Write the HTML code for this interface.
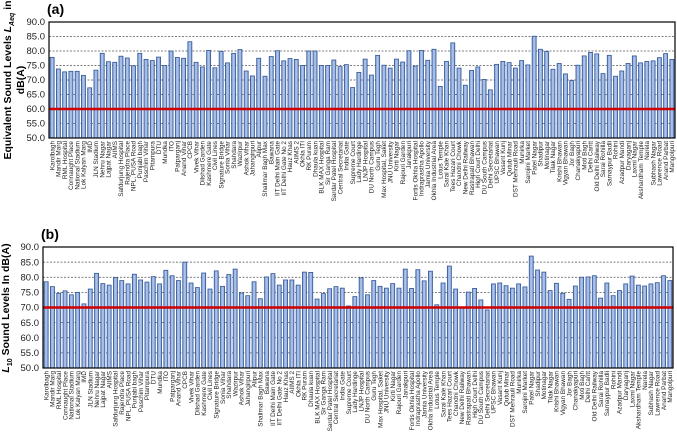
<!DOCTYPE html>
<html><head><meta charset="utf-8"><style>
html,body{margin:0;padding:0;background:#fff;}
svg{display:block;font-family:"Liberation Sans",Arial,sans-serif;}
</style></head><body>
<svg id="c" width="677" height="434" viewBox="0 0 677 434"></svg>
<script>
const categories=["Karolbagh","Mandir Marg","RML Hospital","Connaught Place","National Stadium","Lok Kalyan Marg","IMD","JLN Stadium","Nehru Nagar","Lajpat Nagar","AIIMS","Safdurjung Hospital","Rajendra Place","NPL, PUSA Road","Punjabi bagh","Paschim Vihar","Pitampura","DTU","Mundka","ITO","Patparganj","Anand Vihar","CPCB","Vivek Vihar","Dilshad Garden","Kashmere Gate","Civil Lines","Signature Bridge","Sonia Vihar","Shahdara","Wazirpur","Ashok Vihar","Jahangirpuri","Alipur","Shalimar Bagh Max","Bawana","IIT Delhi Main Gate","IIT Delhi Gate No 2","Hauz Khas","AIIMS 2","Okhla ITI","RK Puram","Dhaula kuan","BLK MAX Hospital","Sir Ganga Ram","Sardar Patel Hospital","Central Secretariat","India Gate","Supreme Court","Lady Hardinge","LNJP Hospital","DU North Campus","Guru Tegh","Max Hospital, Saket","JNU University","Kirti Nagar","Rajouri Garden","Janakpuri","Fortis Okhla Hospital","Indraprastha Apollo","Jamia University","Okhla Industrial Area","Lotus Temple","Sarai Kale Khan","Tees Hazari Court","Chandni Chowk","New Delhi Railway","Rastrapati Bhawan","High Court Delhi","DU South Campus","Delhi Secretariat","UPSC Bhawan","Vasant Kunj","Qutub Minar","DST Mehrauli Road","Munirka","Sarojini Market","Patel Nagar","Shadipur","Motinagar","Tilak Nagar","Krishi Bhawan","Vigyan Bhawan","Jor Bagh","Chanakyapuri","Moti Bagh","Delhi Cantt","Old Delhi Railway","Sarai Rohilla","Samaypur Badli","Rohini","Azadpur Mandi","Daryaganj","Laxmi Nagar","Akshardham Temple","Narela","Subhash Nagar","Lawrence Road","Anand Parbat","Mangolpuri"];
const laeqValues=[77.8,73.8,72.8,73,73,71.6,67.3,73.4,79.2,76.3,76.1,78.2,77.6,74.9,79.2,77.1,76.7,77.9,75,80,77.8,77.5,83.2,76.1,74.5,80.2,74.2,79.9,75.9,79.2,80.5,73.1,71.4,77.5,71.3,78.1,80.1,76.6,77.4,77.1,75,80,80,75,75,76.9,74.6,75.3,67.4,72.6,77.2,71.7,78.5,75.1,74.1,77.2,76.2,80.1,74.8,80.2,76.8,80.6,67.8,76.4,82.8,74.1,68.2,73.3,74.5,70.2,66.6,75.4,76.4,76,74.1,76.7,75.2,85.1,80.6,79.8,73.7,75.7,72.1,69.8,75.1,78.3,79.5,79,72.2,78.5,71.3,73.1,75.7,78.3,75.9,76.4,76.6,77.7,79.1,77.1];
const l10Values=[78.5,76.9,74.7,75.5,74.2,75,71.2,76.1,81.3,77.9,77.4,79.9,78.9,77.8,81,79.1,78.4,80.2,77.8,82.3,80.5,78.9,85,78.1,76.6,81.4,76.1,82.1,77,80.9,82.7,74.8,73.9,78.5,72.9,80.1,81.2,77.4,79.1,79.1,77.4,81.7,81.6,72.8,74.6,76.2,76.9,76.4,70.5,73.6,79.8,74.2,78.9,77,76.4,77.9,76.4,82.7,76.3,82.5,78.8,82,70.9,78.1,83.7,76.1,69.8,75.1,76.3,72.5,69.2,77.8,78.1,77.2,76.4,77.8,76.8,87,82.4,81.7,75.6,78,74.7,72.7,77.1,80,80.1,80.5,73.1,78.1,73.9,75.6,77.8,80.4,77.4,77.1,77.8,78.2,80.5,78.9];
const yTicks=["50.0","55.0","60.0","65.0","70.0","75.0","80.0","85.0","90.0"];
const limitA=60, limitB=70;

const NS="http://www.w3.org/2000/svg";
const svg=document.getElementById('c');
function el(tag,attrs,parent){const e=document.createElementNS(NS,tag);for(const k in attrs)e.setAttribute(k,attrs[k]);(parent||svg).appendChild(e);return e;}
const defs=el('defs',{});
const g=el('linearGradient',{id:'bg',x1:'0',x2:'1',y1:'0',y2:'0'},defs);
el('stop',{offset:'0','stop-color':'#7f9fd6'},g);el('stop',{offset:'0.5','stop-color':'#b4c7ea'},g);el('stop',{offset:'1','stop-color':'#7f9fd6'},g);

function chart(cfg){
  const grp=el('g',{});
  
  
  const {x0,x1,yTop,yBot,vals,limit}=cfg;
  const ys=v=>yBot-(v-50)/40*(yBot-yTop);
  const pitch=(x1-x0)/categories.length;
  const xs=i=>x0+(i+0.5)*pitch;
  yTicks.forEach(t=>{
    const v=parseFloat(t),y=ys(v);
    if(v>50&&v<90){const gl=el('line',{x1:x0,x2:x1,y1:y,y2:y,stroke:'#555','stroke-width':0.8,'stroke-dasharray':'2,1.5'},grp);
      }
    const tl=el('text',{x:x0-4,y:y+3.2,'font-size':'9.5','text-anchor':'end',fill:'#222'},grp);tl.textContent=t;
    
  });
  vals.forEach((v,i)=>{
    const cx=xs(i),y=ys(v);
    const b=el('rect',{x:cx-2,y:y,width:4,height:yBot-y,fill:'url(#bg)',stroke:'#2f5597','stroke-width':0.8},grp);
    
    
    const lb=el('text',{transform:`translate(${cx+2.2},${yBot+3}) rotate(-90)`,'font-size':'6.4','text-anchor':'end',fill:'#222'},grp);
    lb.textContent=categories[i];
    
  });
  const ly=ys(limit);
  const rl=el('line',{x1:x0,x2:x1,y1:ly,y2:ly,stroke:'#d00000','stroke-width':2.6},grp);
  
  const fr=el('rect',{x:x0,y:yTop,width:x1-x0,height:yBot-yTop,fill:'none',stroke:'#000','stroke-width':1.2},grp);
  
  const pl=el('text',{x:x0-2,y:yTop-8,'font-size':'14','font-weight':'bold'},grp);pl.textContent=cfg.panel;
  
}
chart({name:'chart-a',panel:'(a)',x0:49,x1:675,yTop:22,yBot:138,vals:laeqValues,limit:limitA});
chart({name:'chart-b',panel:'(b)',x0:43,x1:673,yTop:247,yBot:368,vals:l10Values,limit:limitB});

// y axis titles
const ta=el('text',{transform:'translate(11,80) rotate(-90)','font-size':'10.5','font-weight':'bold','text-anchor':'middle'});

ta.innerHTML='Equivalent Sound Levels <tspan font-style="italic">L</tspan><tspan font-size="7" dy="3" font-style="italic">Aeq</tspan><tspan dy="-3"> in</tspan>';
const ta2=el('text',{transform:'translate(24,80) rotate(-90)','font-size':'10.5','font-weight':'bold','text-anchor':'middle'});
ta2.textContent='dB(A)';

const tb=el('text',{transform:'translate(9,308) rotate(-90)','font-size':'10.5','font-weight':'bold','text-anchor':'middle'});

tb.innerHTML='<tspan font-style="italic">L</tspan><tspan font-size="7" dy="3">10</tspan><tspan dy="-3"> Sound Levels In dB(A)</tspan>';
</script>
</body></html>
